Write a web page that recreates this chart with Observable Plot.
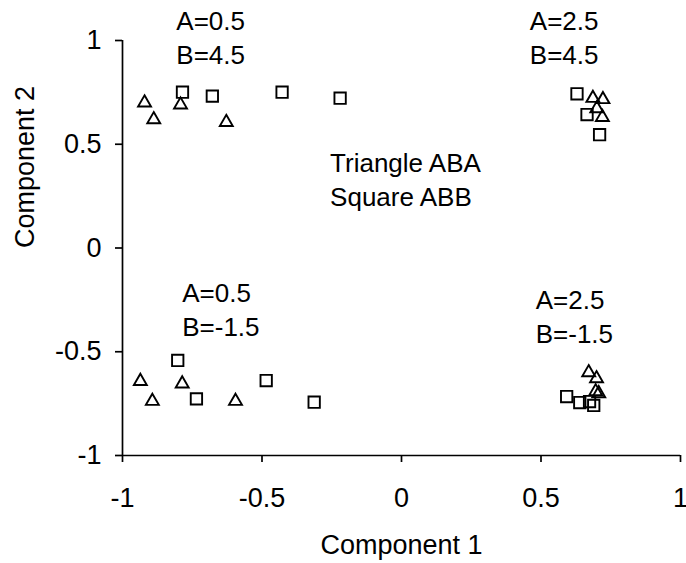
<!DOCTYPE html>
<html>
<head>
<meta charset="utf-8">
<script src="https://cdn.jsdelivr.net/npm/d3@7"></script>
<script src="https://cdn.jsdelivr.net/npm/@observablehq/plot@0.6"></script>
<style>
  html, body { margin: 0; padding: 0; background: white; }
  svg { display: block; }
</style>
</head>
<body>
<div id="chart"></div>
<script>
// Triangle series (ABA)
const triX = [-0.921, -0.888, -0.792, -0.628, 0.686, 0.722, 0.700, 0.720, -0.936, -0.893, -0.786, -0.595, 0.671, 0.699, 0.696, 0.707];
const triY = [0.700, 0.619, 0.690, 0.606, 0.722, 0.716, 0.672, 0.630, -0.642, -0.738, -0.654, -0.738, -0.600, -0.629, -0.692, -0.701];
// Square series (ABB)
const sqX = [-0.785, -0.678, -0.428, -0.220, 0.629, 0.665, 0.710, -0.802, -0.485, -0.735, -0.313, 0.592, 0.639, 0.674, 0.689];
const sqY = [0.751, 0.732, 0.751, 0.722, 0.743, 0.643, 0.546, -0.542, -0.639, -0.727, -0.743, -0.716, -0.745, -0.740, -0.759];
// Tick values
const xTicks = [-1, -0.5, 0, 0.5, 1];
const yTicks = [-1, -0.5, 0, 0.5, 1];
// Annotations
const annotLabels = ["A=0.5\nB=4.5", "A=2.5\nB=4.5", "Triangle ABA\nSquare ABB", "A=0.5\nB=-1.5", "A=2.5\nB=-1.5"];
const annotX = [-0.807, 0.460, -0.256, -0.786, 0.481];
const annotY = [1.164, 1.164, 0.483, -0.146, -0.180];
const xLabel = "Component 1";
const yLabel = "Component 2";

const triangles = triX.map((x, i) => ({x, y: triY[i]}));
const squares = sqX.map((x, i) => ({x, y: sqY[i]}));
const annots = annotLabels.map((t, i) => ({t, x: annotX[i], y: annotY[i]}));

const fmt = d => String(d);

const chart = Plot.plot({
  width: 686,
  height: 563,
  marginLeft: 122,
  marginRight: 6,
  marginTop: 40,
  marginBottom: 108,
  style: {fontFamily: "'Liberation Sans', Arial, sans-serif", fontSize: "27px", background: "white", color: "black", overflow: "visible"},
  x: {domain: [-1, 1]},
  y: {domain: [-1, 1]},
  marks: [
    Plot.axisX({ticks: xTicks, tickSize: 7, tickPadding: 25, tickFormat: fmt, label: null, strokeWidth: 1.7, fontSize: 27}),
    Plot.axisY({ticks: yTicks, tickSize: 7, tickPadding: 14, tickFormat: fmt, label: null, strokeWidth: 1.7, fontSize: 27}),
    Plot.ruleX([-1], {stroke: "black", strokeWidth: 1.7}),
    Plot.ruleY([-1], {stroke: "black", strokeWidth: 1.7}),
    Plot.dot(triangles, {x: "x", y: "y", symbol: "triangle", r: 4.8, stroke: "black", strokeWidth: 1.9, fill: "none"}),
    Plot.dot(squares, {x: "x", y: "y", symbol: "square", r: 6.4, stroke: "black", strokeWidth: 1.9, fill: "none"}),
    Plot.text(annots, {x: "x", y: "y", text: "t", textAnchor: "start", lineAnchor: "top", lineHeight: 1.3, fontSize: 26, fill: "black"}),
    Plot.text([xLabel], {frameAnchor: "bottom", dy: 90, lineAnchor: "middle", fontSize: 27, fill: "black"}),
    Plot.text([yLabel], {frameAnchor: "left", dx: -97, rotate: -90, lineAnchor: "middle", fontSize: 27, fill: "black"})
  ]
});
document.getElementById("chart").appendChild(chart);
</script>
</body>
</html>
